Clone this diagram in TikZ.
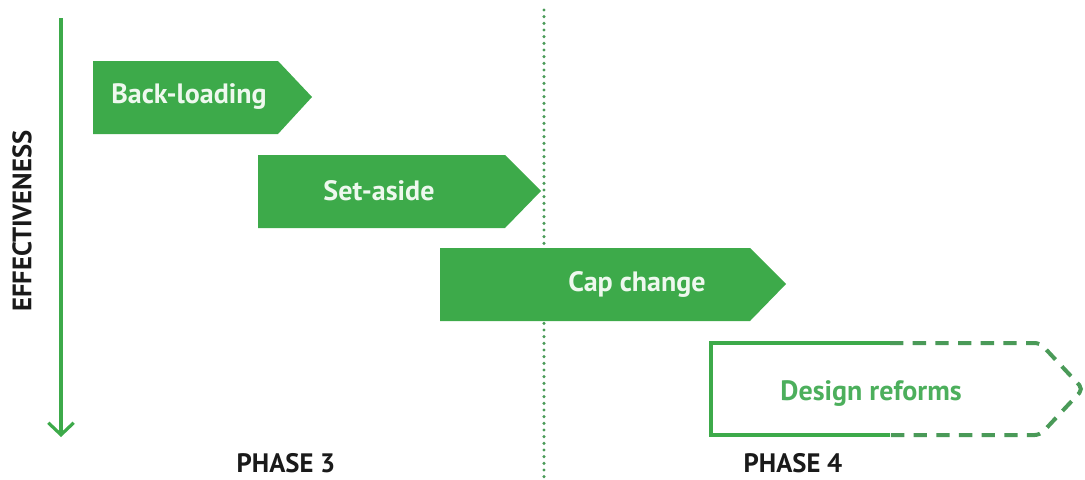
\documentclass[tikz,border=0pt]{standalone}
\usepackage{fontspec}
\setmainfont{PT Sans}
\usetikzlibrary{arrows.meta}
\definecolor{leaf}{HTML}{3DAA4A}
\definecolor{leafdark}{HTML}{4A9A58}
\definecolor{leaftext}{HTML}{4CAF5C}
\definecolor{paletext}{HTML}{EEF8EE}
\definecolor{ink}{HTML}{1A1A1A}
\tikzset{
  stage/.style={fill=leaf},
  stagelabel/.style={text=paletext,font=\bfseries\fontsize{21}{24}\selectfont},
  phaselabel/.style={text=ink,font=\bfseries\fontsize{20}{24}\selectfont},
}
\begin{document}
\begin{tikzpicture}[x=0.75pt,y=-0.75pt]
  \useasboundingbox (0,0) rectangle (1085,479);
  % axis
  \coordinate (top) at (61,18);
  \coordinate (bottom) at (61,437);
  \draw[leaf,line width=2.4pt,-{Straight Barb[length=9pt,width=19pt,line width=2.4pt]}] (top) -- (bottom);
  \node[rotate=90,phaselabel] (eff) at (22,221) {EFFECTIVENESS};
  % phase divider
  \coordinate (divtop) at (544,10);
  \coordinate (divbot) at (544,479);
  \draw[leafdark,line width=2.6pt,line cap=round,dash pattern=on 0pt off 5pt] (divtop) -- (divbot);
  % stages
  \fill[stage] (93,61) -- (278,61) -- (312,97) -- (278,134) -- (93,134) -- cycle;
  \node[stagelabel] (back) at (189,97) {Back-loading};
  \fill[stage] (258,155) -- (505,155) -- (541,191) -- (505,228) -- (258,228) -- cycle;
  \node[stagelabel] (setaside) at (379,191) {Set-aside};
  \fill[stage] (440,248) -- (750,248) -- (786,284) -- (750,321) -- (440,321) -- cycle;
  \node[stagelabel] (cap) at (637,284) {Cap change};
  \draw[leaf,line width=3pt] (890,343) -- (711,343) -- (711,435) -- (890,435);
  \draw[leafdark,line width=3pt,dash pattern=on 10pt off 7pt,rounded corners=4pt]
    (890,343) -- (1040,343) -- (1083,389) -- (1040,435) -- (890,435);
  \node[stagelabel,text=leaftext] (design) at (871,394) {Design reforms};
  % phases
  \node[phaselabel,anchor=base,inner sep=0pt,text depth=0pt] (p3) at (286,472) {PHASE 3};
  \node[phaselabel,anchor=base,inner sep=0pt,text depth=0pt] (p4) at (793,472) {PHASE 4};
\end{tikzpicture}
\end{document}
